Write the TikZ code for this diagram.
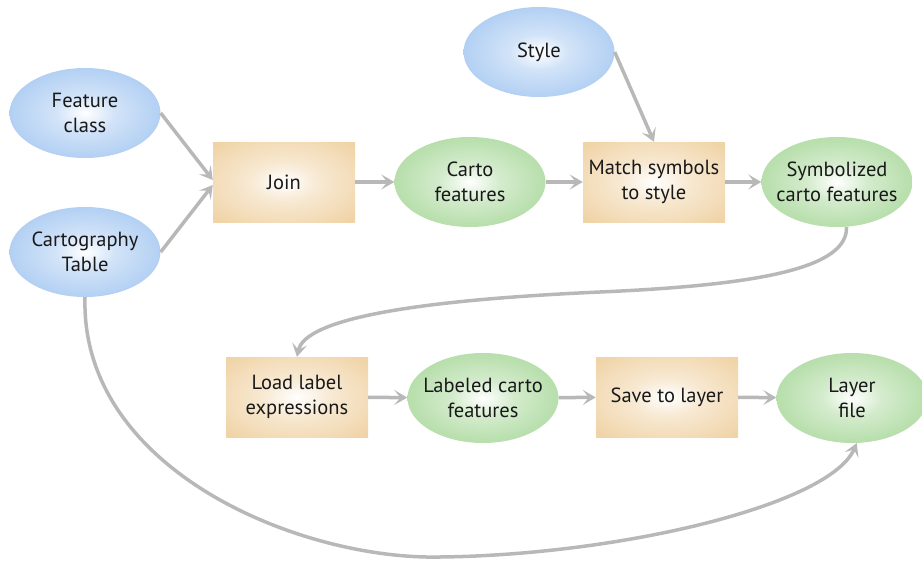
\documentclass[tikz,border=0pt]{standalone}
\usepackage{fontspec}
\setmainfont{PT Sans}
\usetikzlibrary{shapes.geometric,arrows.meta}

% node colours
\definecolor{bluerim}{HTML}{A4C7F1}
\definecolor{greenrim}{HTML}{A9D89B}
\definecolor{tanrim}{HTML}{F0D3A6}
\definecolor{linkgray}{HTML}{B8B8B8}
\colorlet{bluemid}{bluerim!50!white}
\colorlet{greenmid}{greenrim!50!white}
\colorlet{tanmid}{tanrim!50!white}

% soft glow: white centre fading to the rim colour
\pgfdeclareradialshading{blueglow}{\pgfpointorigin}{color(0bp)=(white); color(10bp)=(bluemid); color(32bp)=(bluerim); color(50bp)=(bluerim)}
\pgfdeclareradialshading{greenglow}{\pgfpointorigin}{color(0bp)=(white); color(10bp)=(greenmid); color(32bp)=(greenrim); color(50bp)=(greenrim)}
\pgfdeclareradialshading{tanglow}{\pgfpointorigin}{color(0bp)=(white); color(12bp)=(tanmid); color(34bp)=(tanrim); color(50bp)=(tanrim)}

\tikzset{
  lbl/.style={font=\fontsize{20.5}{25}\selectfont, align=center, text=black!90},
  data/.style={lbl, ellipse, minimum width=151pt, minimum height=90pt,
    inner xsep=-14pt, inner ysep=-6pt},
  inputdata/.style={data, shading=blueglow},
  derived/.style={data, shading=greenglow},
  tool/.style={lbl, rectangle, minimum width=142pt, minimum height=80pt, inner sep=0pt, shading=tanglow},
  link/.style={draw=linkgray, line width=3.5pt,
    -{Stealth[length=13pt, width=15pt, inset=6pt, fill=linkgray]}},
}

\begin{document}
\begin{tikzpicture}[x=1pt, y=-1pt]
\useasboundingbox (0,0) rectangle (922,562);

% inputs
\node[inputdata] (fc)    at (85,113)  {Feature\\class};
\node[inputdata] (ct)    at (85,252)  {Cartography\\Table};
\node[inputdata] (style) at (539,52)  {Style};

% first row
\node[tool]    (join)  at (284,182) {Join};
\node[derived] (carto) at (470,182) {Carto\\features};
\node[tool]    (match) at (654,182) {Match symbols\\to style};
\node[derived] (sym)   at (837,182) {Symbolized\\carto features};

% second row
\node[tool]    (load)  at (297,397) {Load label\\expressions};
\node[derived] (lab)   at (483,398) {Labeled carto\\features};
\node[tool]    (save)  at (667,397) {Save to layer};
\node[derived] (lf)    at (852,398) {Layer\\file};

% straight links
\draw[link] (fc.east) -- ([yshift=2pt]join.west);
\draw[link] (ct.east) -- ([yshift=-3pt]join.west);
\draw[link] (join) -- (carto);
\draw[link] (carto) -- (match);
\draw[link] (match) -- (sym);
\draw[link] (style.east) -- (match.north);
\draw[link] (load) -- (lab);
\draw[link] (lab) -- (save);
\draw[link] (save) -- (lf);

% curved links
\draw[link] (sym.-78) .. controls (848,268) and (760,285) .. (600,292)
            .. controls (420,300) and (305,318) .. (load.north);
\draw[link] (ct.south) .. controls (80,470) and (300,560) .. (440,557)
            .. controls (620,555) and (830,505) .. (lf.-84);
\end{tikzpicture}
\end{document}
